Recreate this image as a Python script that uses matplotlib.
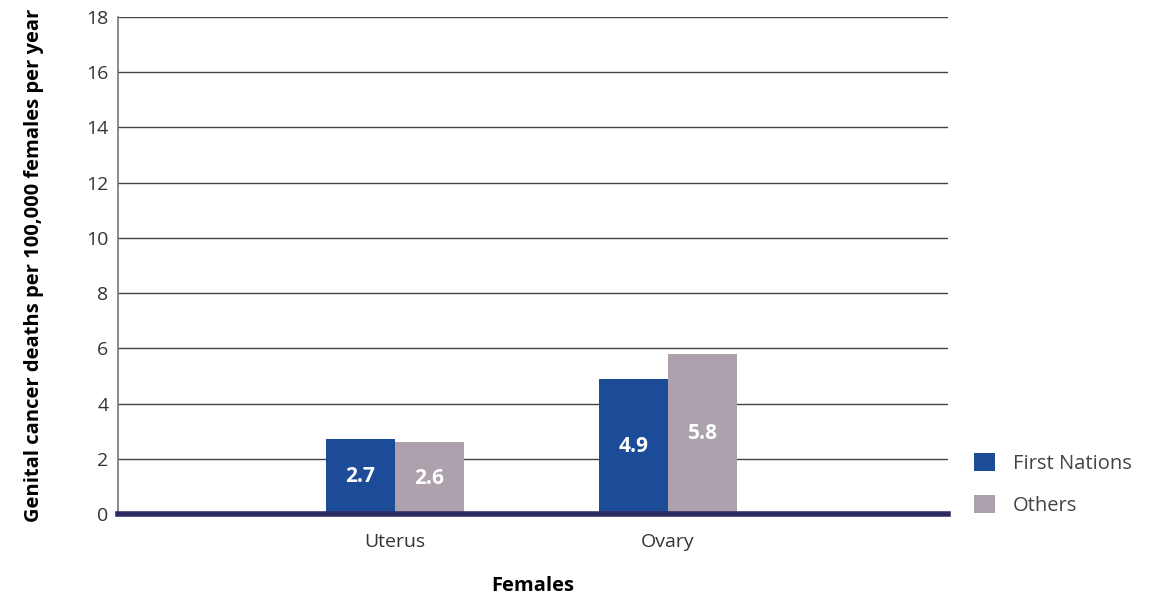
import matplotlib.pyplot as plt
import numpy as np

plt.rcParams['font.family'] = ['Open Sans', 'DejaVu Sans']

categories = ['Uterus', 'Ovary']
first_nations = [2.7, 4.9]
others = [2.6, 5.8]
yticks = [0, 2, 4, 6, 8, 10, 12, 14, 16, 18]

c_fn = '#1c4c97'
c_ot = '#aea1ae'

fig = plt.figure(figsize=(11.51, 5.95), dpi=100)
ax = fig.add_axes([0.1025, 0.1361, 0.7211, 0.8353])

x = np.arange(len(categories))
w = 0.253
b1 = ax.bar(x - w / 2, first_nations, w, color=c_fn, label='First Nations', zorder=3)
b2 = ax.bar(x + w / 2, others, w, color=c_ot, label='Others', zorder=3)

# value labels in the middle of the bars
for bars, vals in [(b1, first_nations), (b2, others)]:
    for rect, v in zip(bars, vals):
        ax.text(rect.get_x() + rect.get_width() / 2, v / 2, f'{v}', ha='center', va='center',
                color='white', fontsize=15, fontweight='bold', zorder=4)

ax.set_xlim(-1.015, 2.026)
ax.set_ylim(0, 18)
ax.set_yticks(yticks)
ax.set_xticks(x)
ax.set_xticklabels(categories)
ax.tick_params(axis='both', length=0, labelsize=14, colors='#333333')
ax.tick_params(axis='x', pad=14)
ax.tick_params(axis='y', pad=7)
ax.yaxis.grid(True, color='#444444', linewidth=1)
ax.set_axisbelow(True)
for s in ['top', 'right', 'bottom']:
    ax.spines[s].set_visible(False)
ax.spines['left'].set_color('#777777')
ax.spines['left'].set_linewidth(1.2)
ax.axhline(0, color='#2e2a63', linewidth=4, zorder=5, clip_on=False)

ax.set_xlabel('Females', fontsize=14.5, fontweight='bold', labelpad=18)
ax.set_ylabel('Genital cancer deaths per 100,000 females per year', fontsize=14.5,
              fontweight='bold', labelpad=30)

ax.legend(loc='lower left', bbox_to_anchor=(1.01, -0.04), frameon=False, fontsize=14.5,
          handlelength=1.0, handleheight=1.0, handletextpad=0.9, labelspacing=1.05,
          labelcolor='#444444')

fig.savefig('out.png', dpi=100)
